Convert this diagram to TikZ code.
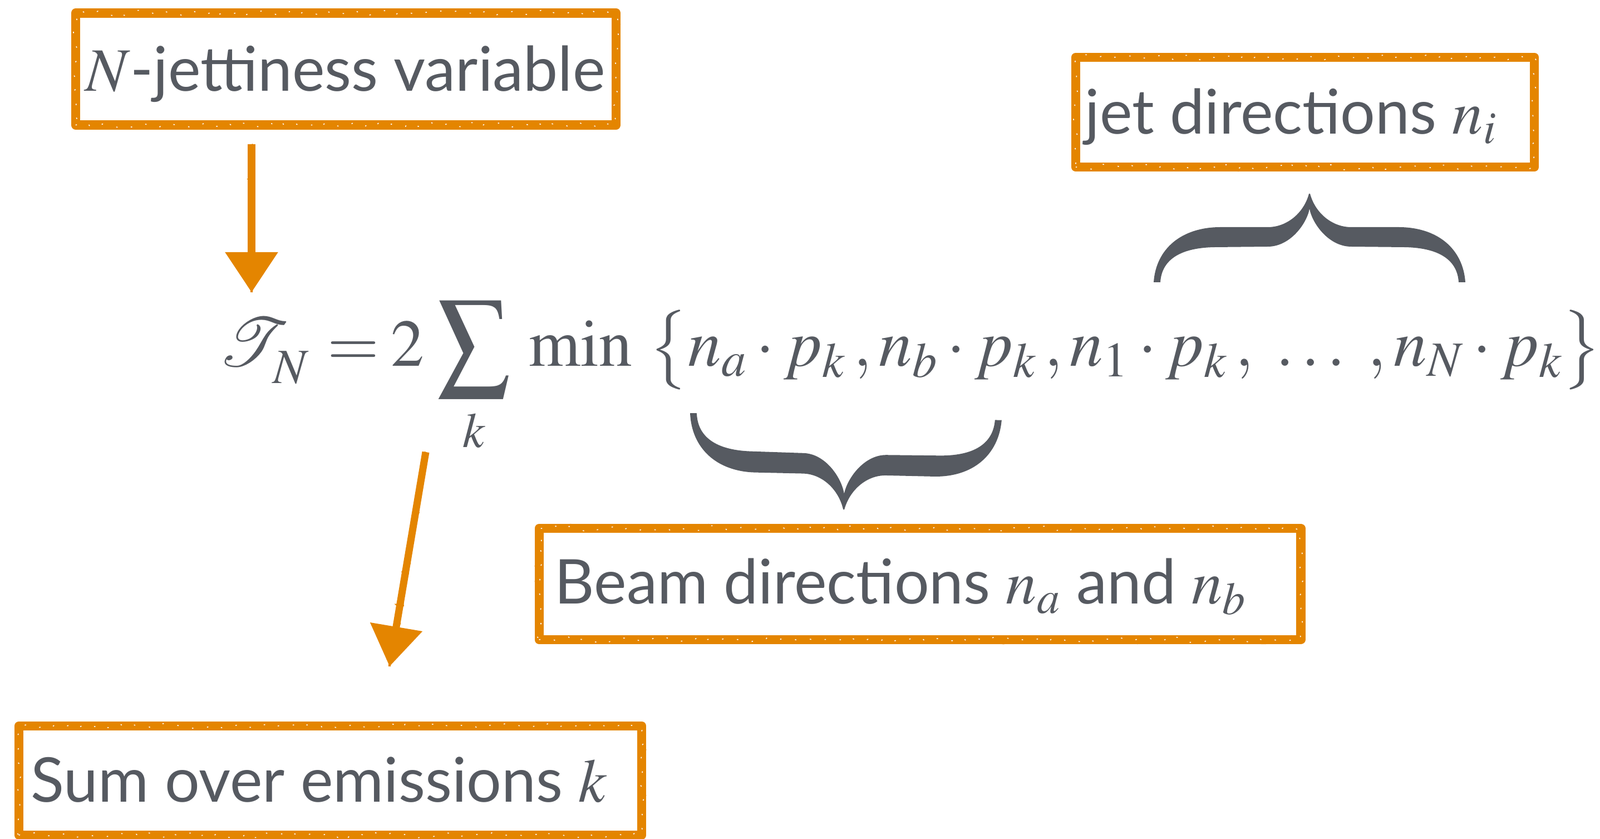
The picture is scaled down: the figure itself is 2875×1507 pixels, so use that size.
\documentclass[tikz,border=0pt]{standalone}
\usepackage{graphicx}
\usepackage{mathptmx}
\usepackage{mathrsfs}
\usepackage[no-math]{fontspec}
\setmainfont{Lato}
\usetikzlibrary{arrows.meta,decorations.pathmorphing}
\definecolor{ink}{RGB}{86,90,97}
\definecolor{orb}{RGB}{228,133,0}
\tikzset{
  lbl/.style={text=ink, inner sep=0pt, anchor=base west, font=\fontsize{31.5}{38}\selectfont},
  fml/.style={text=ink, inner sep=0pt, anchor=base west, font=\fontsize{34}{40}\selectfont},
  roughbox/.style={draw=orb, line width=4.6pt, inner sep=0pt, line join=round,
    postaction={draw=orb, line width=1.5pt, decorate,
      decoration={random steps, segment length=2pt, amplitude=1.6pt}},
    postaction={draw=white, line width=0.45pt, dash pattern=on 0.7pt off 7pt, decorate,
      decoration={random steps, segment length=3pt, amplitude=1.4pt}}},
  sketcharrow/.style={draw=orb, line width=3.7pt,
    -{Triangle[length=0.72cm,width=0.92cm]},
    postaction={draw=orb, line width=1.2pt, -, decorate,
      decoration={random steps, segment length=2pt, amplitude=1.4pt}}},
  bracefill/.style={fill=ink, draw=none}
}
\newcommand\bracepath{%
  (0,0) .. controls (4,60) and (50,99) .. (120,99)
  -- (205,99)
  .. controls (240,99) and (270,125) .. (279,159)
  -- (281,159)
  .. controls (290,125) and (320,99) .. (355,99)
  -- (440,99)
  .. controls (510,99) and (556,60) .. (560,0)
  -- (548,0)
  .. controls (546,35) and (520,62) .. (450,63)
  -- (355,64)
  .. controls (315,64) and (285,105) .. (280,132)
  .. controls (275,105) and (245,64) .. (205,64)
  -- (110,63)
  .. controls (40,62) and (14,35) .. (12,0)
  -- cycle}
\begin{document}
\begin{tikzpicture}[x=0.01cm, y=-0.01cm]
\useasboundingbox (0,0) rectangle (2875,1507);

% boxes
\node[roughbox, minimum width=9.71cm, minimum height=2.01cm] (b1) at (621.5,124) {};
\node[roughbox, minimum width=8.24cm, minimum height=1.97cm] (b2) at (2345,201.5) {};
\node[roughbox, minimum width=13.68cm, minimum height=2.00cm] (b3) at (1653,1049) {};
\node[roughbox, minimum width=11.19cm, minimum height=1.96cm] (b4) at (593.5,1402) {};

% labels
\node[lbl] (t1) at (153,164) {$N$-jettiness variable};
\node[lbl] (t2) at (1949,241) {jet directions $n_i$};
\node[lbl] (t3) at (996,1085) {Beam directions $n_a$ and $n_b$};
\node[lbl] (t4) at (55,1440) {Sum over emissions $k$};

% formula
\node[fml] (FT) at (392,658) {\resizebox{!}{0.86cm}{$\mathscr{T}$}};
\node[fml] (FN) at (490,689) {$\scriptstyle N$};
\node[fml] (Feq) at (588,658) {$=$};
\node[fml] (F2) at (702,658) {$2$};
\node[fml, anchor=north west] (FS) at (785,540) {\resizebox*{1.32cm}{1.74cm}{$\displaystyle\sum$}};
\node[fml] (Fk) at (831,804) {$\scriptstyle k$};
\node[fml] (Fmin) at (950,658) {$\min$};
\node[fml] (Fset) at (1166,658) {$\big\{n_a\cdot p_k\,,n_b\cdot p_k\,,n_1\cdot p_k\,,\;\ldots\;,n_N\cdot p_k\big\}$};

% braces
\begin{scope}[shift={(2073,507)}, yscale=-1]
  \fill[bracefill] \bracepath;
\end{scope}
\begin{scope}[shift={(1240,742)}, rotate=-1.3, yscale=1.05]
  \fill[bracefill] \bracepath;
\end{scope}

% arrows
\coordinate (a1s) at (452,259);
\coordinate (a1e) at (452,525);
\coordinate (a2s) at (765,812);
\coordinate (a2e) at (700,1197);
\draw[sketcharrow] (a1s) -- (a1e);
\draw[sketcharrow] (a2s) -- (a2e);
\end{tikzpicture}
\end{document}
